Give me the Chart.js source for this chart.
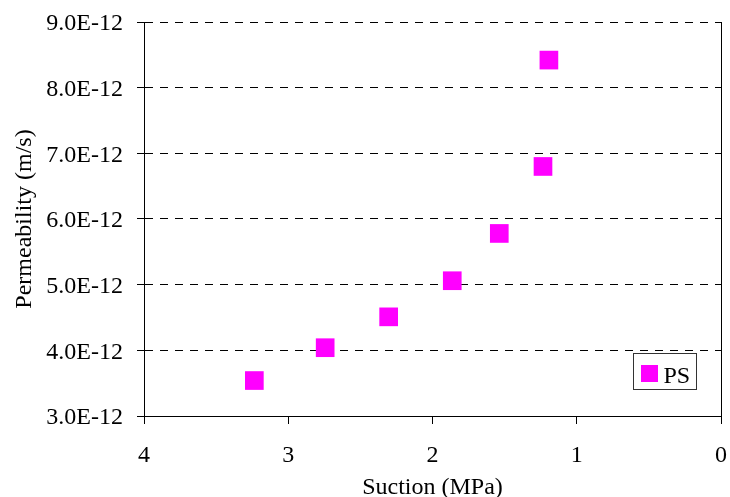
<!DOCTYPE html>
<html>
<head>
<meta charset="utf-8">
<script src="https://cdn.jsdelivr.net/npm/chart.js@4/dist/chart.umd.min.js"></script>
<style>
  html, body { margin: 0; padding: 0; background: #fff; }
  #c { display: block; }
</style>
</head>
<body>
<canvas id="c" width="730" height="497"></canvas>
<script>
// ---- Data ----
const seriesName = "PS";
const suction = [3.235, 2.744, 2.304, 1.863, 1.537, 1.234, 1.193];           // MPa
const permeability = [3.54e-12, 4.04e-12, 4.51e-12, 5.06e-12, 5.78e-12, 6.80e-12, 8.42e-12]; // m/s
const xTicks = [0, 1, 2, 3, 4];
const yMin = 3.0e-12, yMax = 9.0e-12, yStep = 1.0e-12;
const xTitle = "Suction (MPa)";
const yTitle = "Permeability (m/s)";

const points = suction.map((s, i) => ({ x: s, y: permeability[i] }));
const FONT = "'Liberation Serif', 'Times New Roman', serif";
const MAGENTA = "#FF00FF";

function noOverhang(scale) {
  scale.paddingLeft = 0; scale.paddingRight = 0;
  scale.paddingTop = 0; scale.paddingBottom = 0;
}

const legendPlugin = {
  id: "boxLegend",
  afterDraw(chart) {
    const ctx = chart.ctx;
    const x0 = 633.5, y0 = 353.5, w = 63, h = 36;
    ctx.save();
    ctx.fillStyle = "#fff";
    ctx.fillRect(x0, y0, w, h);
    ctx.strokeStyle = "#333";
    ctx.lineWidth = 1;
    ctx.strokeRect(x0, y0, w, h);
    ctx.fillStyle = MAGENTA;
    ctx.fillRect(641, 365, 17, 17);
    ctx.fillStyle = "#000";
    ctx.font = "24px " + FONT;
    ctx.textBaseline = "alphabetic";
    ctx.textAlign = "left";
    ctx.fillText(chart.data.datasets[0].label, 663.5, 383);
    ctx.restore();
  }
};

new Chart(document.getElementById("c"), {
  type: "scatter",
  data: {
    datasets: [{
      label: seriesName,
      data: points,
      pointStyle: "rect",
      pointRadius: 13.2,
      pointHoverRadius: 13.2,
      backgroundColor: MAGENTA,
      borderColor: MAGENTA,
      borderWidth: 0,
      clip: false
    }]
  },
  options: {
    responsive: false,
    animation: false,
    layout: { autoPadding: false, padding: { top: 22, left: 0, right: 9, bottom: 0 } },
    plugins: {
      legend: { display: false },
      tooltip: { enabled: false }
    },
    scales: {
      x: {
        type: "linear",
        position: "bottom",
        reverse: true,
        min: 0,
        max: 4,
        afterBuildTicks(scale) { scale.ticks = xTicks.map(v => ({ value: v })); },
        afterFit(scale) { scale.height = 81; noOverhang(scale); },
        ticks: {
          color: "#000",
          font: { family: FONT, size: 24 },
          padding: 17,
          maxRotation: 0,
          callback: v => String(v)
        },
        grid: {
          drawOnChartArea: true,
          drawTicks: true,
          tickLength: 8,
          tickColor: "#000",
          // only the line at suction 0 is drawn across the plot: the right frame
          color: c => (c.tick && c.tick.value === 0 ? "#000" : "rgba(0,0,0,0)")
        },
        border: { display: true, color: "#000", width: 1 },
        title: {
          display: true,
          text: xTitle,
          color: "#000",
          font: { family: FONT, size: 24 },
          padding: { top: 0, bottom: -5 }
        }
      },
      y: {
        type: "linear",
        position: "left",
        min: yMin,
        max: yMax,
        afterFit(scale) { scale.width = 144; noOverhang(scale); },
        ticks: {
          stepSize: yStep,
          color: "#000",
          font: { family: FONT, size: 24 },
          padding: 14,
          labelOffset: 2,
          callback: v => (v / 1e-12).toFixed(1) + "E-12"
        },
        grid: {
          color: "#000",
          lineWidth: 1,
          tickLength: 7,
          tickColor: "#000",
          tickBorderDash: []
        },
        border: { display: true, color: "#000", width: 1, dash: [8, 7] },
        title: {
          display: true,
          text: yTitle,
          color: "#000",
          font: { family: FONT, size: 24 },
          padding: { top: 10, bottom: 0 }
        }
      }
    }
  },
  plugins: [legendPlugin]
});
</script>
</body>
</html>
